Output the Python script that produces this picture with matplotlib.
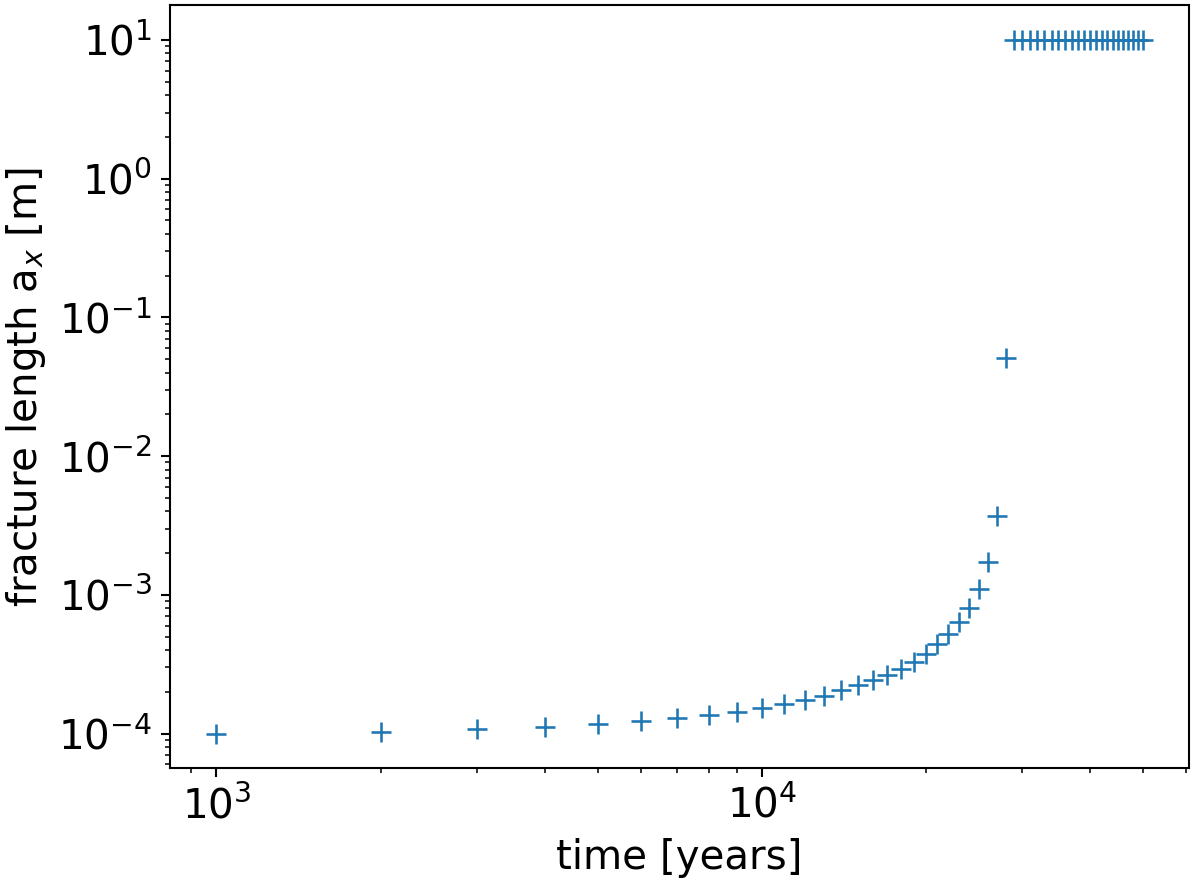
import numpy as np
import matplotlib
matplotlib.use("Agg")
import matplotlib.pyplot as plt

# time steps in years
time = [1000, 2000, 3000, 4000, 5000, 6000, 7000, 8000, 9000, 10000,
        11000, 12000, 13000, 14000, 15000, 16000, 17000, 18000, 19000, 20000,
        21000, 22000, 23000, 24000, 25000, 26000, 27000, 28000,
        29000, 30000, 31000, 32000, 33000, 34000, 35000, 36000, 37000, 38000,
        39000, 40000, 41000, 42000, 43000, 44000, 45000, 46000, 47000, 48000,
        49000, 50000]

# fracture length a_x [m]
length = [1.00e-4, 1.03e-4, 1.07e-4, 1.12e-4, 1.18e-4, 1.24e-4, 1.29e-4, 1.35e-4, 1.43e-4, 1.53e-4,
          1.62e-4, 1.75e-4, 1.88e-4, 2.05e-4, 2.23e-4, 2.42e-4, 2.63e-4, 2.90e-4, 3.26e-4, 3.72e-4,
          4.40e-4, 5.20e-4, 6.35e-4, 8.10e-4, 1.10e-3, 1.73e-3, 3.70e-3, 5.10e-2,
          10, 10, 10, 10, 10, 10, 10, 10, 10, 10,
          10, 10, 10, 10, 10, 10, 10, 10, 10, 10,
          10, 10]

plt.rcParams['font.size'] = 15.5
plt.rcParams['axes.linewidth'] = 0.8

fig = plt.figure(figsize=(6.4, 4.704), dpi=187.5)
ax = fig.add_axes([0.1417, 0.129, 0.991 - 0.1417, 0.994 - 0.129])
ax.scatter(time, length, marker='+', s=60, color='#1f77b4', linewidths=1.0)
ax.set_xscale('log')
ax.set_yscale('log')
ax.set_xlabel('time [years]', labelpad=4)
ax.set_ylabel('fracture length a$_x$ [m]', labelpad=4)

fig.savefig('out.png', dpi=187.5)
